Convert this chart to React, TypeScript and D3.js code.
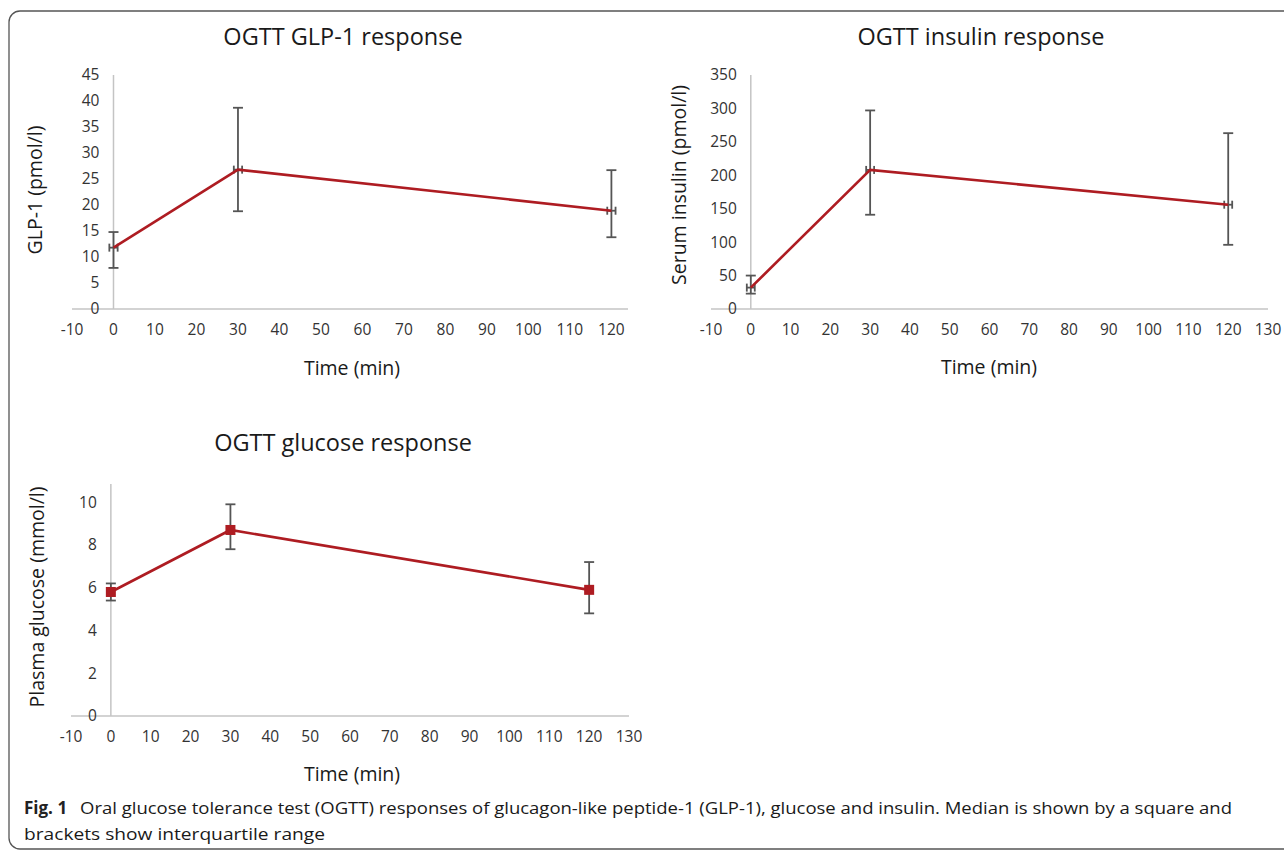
import React from "react";
import * as d3 from "d3";

// sampling times (min)
const times = [0, 30, 120];
const timeErr = [1, 1, 1];

// GLP-1 (pmol/l): median and interquartile range
const glpMedian = [11.8, 26.8, 18.9];
const glpLow = [7.9, 18.8, 13.8];
const glpHigh = [14.8, 38.7, 26.7];

// serum insulin (pmol/l)
const insMedian = [32, 208, 156];
const insLow = [23, 141, 96];
const insHigh = [50, 297, 263];

// plasma glucose (mmol/l)
const gluMedian = [5.8, 8.7, 5.9];
const gluLow = [5.4, 7.8, 4.8];
const gluHigh = [6.2, 9.9, 7.2];

const xTicksShort = d3.range(-10, 121, 10);
const xTicksLong = d3.range(-10, 131, 10);
const glpTicks = d3.range(0, 46, 5);
const insTicks = d3.range(0, 351, 50);
const gluTicks = d3.range(0, 11, 2);

const FONT = "'Open Sans', 'DejaVu Sans', sans-serif";
const RED = "#ae1c22";
const BAR = "#555555";
const AXIS = "#c4c4c4";

type PanelProps = {
  title: string;
  yLabel: string;
  xRange: [number, number];
  xDomain: [number, number];
  yRange: [number, number];
  yDomain: [number, number];
  xTicks: number[];
  yTicks: number[];
  median: number[];
  low: number[];
  high: number[];
  xErr: boolean;
  squares: boolean;
  titleX: number;
  titleY: number;
  xLabelX: number;
  xLabelY: number;
  yLabelX: number;
  yLabelY: number;
};

const Panel = (p: PanelProps) => {
  const x = d3.scaleLinear().domain(p.xDomain).range(p.xRange);
  const y = d3.scaleLinear().domain(p.yDomain).range(p.yRange);
  const x0 = x(0);
  const yBase = y(0);
  const pts = times.map((t, i) => ({ t, m: p.median[i], lo: p.low[i], hi: p.high[i], e: timeErr[i] }));
  const line = d3
    .line<{ t: number; m: number }>()
    .x((d) => x(d.t))
    .y((d) => y(d.m));

  return (
    <g>
      <text x={p.titleX} y={p.titleY} textAnchor="middle" fontSize={23.5} fill="#1a1a1a">
        {p.title}
      </text>
      {/* axes */}
      <line x1={x0} x2={x0} y1={p.yRange[1]} y2={yBase} stroke={AXIS} strokeWidth={1.5} />
      <line x1={p.xRange[0]} x2={p.xRange[1]} y1={yBase} y2={yBase} stroke={AXIS} strokeWidth={1.5} />
      {p.yTicks.map((v) => (
        <text key={"y" + v} x={x0 - 14} y={y(v)} dy="0.35em" textAnchor="end" fontSize={15.5} fill="#333">
          {v}
        </text>
      ))}
      {p.xTicks.map((v) => (
        <text key={"x" + v} x={x(v)} y={yBase + 26} textAnchor="middle" fontSize={15.5} fill="#333">
          {v}
        </text>
      ))}
      <text x={p.xLabelX} y={p.xLabelY} textAnchor="middle" fontSize={19.5} fill="#1a1a1a">
        Time (min)
      </text>
      <text
        transform={`translate(${p.yLabelX},${p.yLabelY}) rotate(-90)`}
        textAnchor="middle"
        fontSize={19.5}
        fill="#1a1a1a"
      >
        {p.yLabel}
      </text>
      {/* error bars */}
      {pts.map((d, i) => (
        <g key={"e" + i} stroke={BAR} strokeWidth={1.8} fill="none">
          <line x1={x(d.t)} x2={x(d.t)} y1={y(d.lo)} y2={y(d.hi)} />
          <line x1={x(d.t) - 5} x2={x(d.t) + 5} y1={y(d.lo)} y2={y(d.lo)} />
          <line x1={x(d.t) - 5} x2={x(d.t) + 5} y1={y(d.hi)} y2={y(d.hi)} />
          {p.xErr && (
            <>
              <line x1={x(d.t - d.e)} x2={x(d.t + d.e)} y1={y(d.m)} y2={y(d.m)} />
              <line x1={x(d.t - d.e)} x2={x(d.t - d.e)} y1={y(d.m) - 4} y2={y(d.m) + 4} />
              <line x1={x(d.t + d.e)} x2={x(d.t + d.e)} y1={y(d.m) - 4} y2={y(d.m) + 4} />
            </>
          )}
        </g>
      ))}
      <path d={line(pts) || ""} fill="none" stroke={RED} strokeWidth={2.6} />
      {p.squares &&
        pts.map((d, i) => (
          <rect key={"s" + i} x={x(d.t) - 5} y={y(d.m) - 5} width={10} height={10} fill={RED} />
        ))}
    </g>
  );
};

const App = () => {
  return (
    <svg
      width={1284}
      height={852}
      style={{ position: "absolute", left: 0, top: 0, background: "#fff" }}
      fontFamily={FONT}
    >
      <rect x={9} y={11} width={1320} height={838} rx={11} fill="none" stroke="#555" strokeWidth={1.3} />
      <Panel
        title="OGTT GLP-1 response"
        yLabel="GLP-1 (pmol/l)"
        xRange={[72, 628]}
        xDomain={[-10, 124]}
        yRange={[309, 75]}
        yDomain={[0, 45]}
        xTicks={xTicksShort}
        yTicks={glpTicks}
        median={glpMedian}
        low={glpLow}
        high={glpHigh}
        xErr={true}
        squares={false}
        titleX={343}
        titleY={45}
        xLabelX={352}
        xLabelY={375}
        yLabelX={42}
        yLabelY={190}
      />
      <Panel
        title="OGTT insulin response"
        yLabel="Serum insulin (pmol/l)"
        xRange={[711, 1268]}
        xDomain={[-10, 130]}
        yRange={[309, 75]}
        yDomain={[0, 350]}
        xTicks={xTicksLong}
        yTicks={insTicks}
        median={insMedian}
        low={insLow}
        high={insHigh}
        xErr={true}
        squares={false}
        titleX={981}
        titleY={45}
        xLabelX={989}
        xLabelY={374}
        yLabelX={686}
        yLabelY={185}
      />
      <Panel
        title="OGTT glucose response"
        yLabel="Plasma glucose (mmol/l)"
        xRange={[71, 629]}
        xDomain={[-10, 130]}
        yRange={[716, 484]}
        yDomain={[0, 10.85]}
        xTicks={xTicksLong}
        yTicks={gluTicks}
        median={gluMedian}
        low={gluLow}
        high={gluHigh}
        xErr={false}
        squares={true}
        titleX={343}
        titleY={451}
        xLabelX={352}
        xLabelY={781}
        yLabelX={44}
        yLabelY={597}
      />
      <text x={24} y={814} fontSize={17} fill="#1a1a1a" fontFamily="'Open Sans', sans-serif">
        <tspan fontWeight="bold" fill="#222">Fig. 1</tspan>
      </text>
      <text
        x={80}
        y={814}
        fontSize={17}
        fill="#1a1a1a"
        textLength={1152}
        lengthAdjust="spacingAndGlyphs"
      >
        Oral glucose tolerance test (OGTT) responses of glucagon-like peptide-1 (GLP-1), glucose and insulin. Median is shown by a square and
      </text>
      <text x={24} y={840} fontSize={17} fill="#1a1a1a" textLength={301} lengthAdjust="spacingAndGlyphs">
        brackets show interquartile range
      </text>
    </svg>
  );
};

export default App;
